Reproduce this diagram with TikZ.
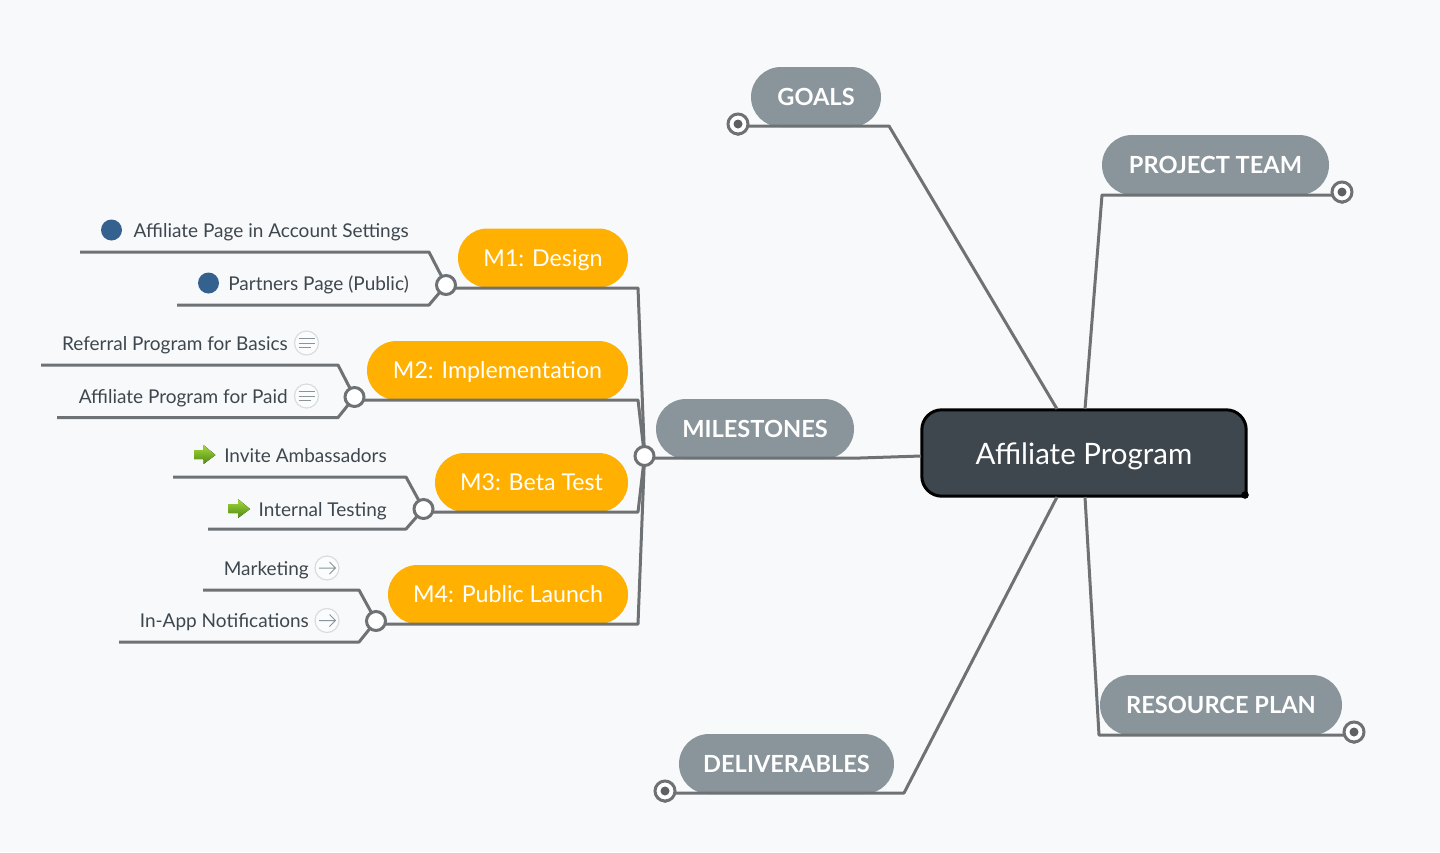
\documentclass[tikz,border=0pt]{standalone}
\usepackage{fontspec}
\setmainfont{Lato}
\usetikzlibrary{shapes.misc}
\definecolor{paper}{HTML}{F8F9FB}
\definecolor{wire}{HTML}{6E7275}
\definecolor{slate}{HTML}{3E474E}
\definecolor{pillgray}{HTML}{89959A}
\definecolor{pillamber}{HTML}{FFB000}
\definecolor{dotblue}{HTML}{35618F}
\definecolor{iconrim}{HTML}{D9DDE0}
\definecolor{iconink}{HTML}{8A9499}
\definecolor{limetop}{HTML}{A6D83C}
\definecolor{limebot}{HTML}{4F8A12}
\pgfdeclarelayer{pills}
\pgfdeclarelayer{wires}
\pgfsetlayers{pills,wires,main}
\tikzset{
  topicpill/.style={shape=rounded rectangle,fill=pillgray,text=white,inner sep=0pt,minimum height=60pt,
    text height=17.5pt,text depth=0pt,font=\fontsize{23.6}{28}\selectfont\bfseries},
  milepill/.style={shape=rounded rectangle,fill=pillamber,text=white,inner sep=0pt,minimum height=59pt,
    text height=16.5pt,text depth=0pt,font=\fontsize{23.2}{28}\selectfont},
  centertext/.style={text=white,inner sep=0pt,minimum width=324pt,minimum height=86pt,
    text height=22pt,text depth=0pt,font=\fontsize{29.5}{34}\selectfont},
  centerbox/.style={draw=black,line width=3pt,fill=slate,line join=round},
  leaftext/.style={anchor=base east,text=slate,inner sep=0pt,font=\fontsize{19}{23}\selectfont},
  wireline/.style={draw=wire,line width=3pt,line join=round},
  joint/.style={circle,draw=wire,fill=white,line width=3pt,minimum size=19pt,inner sep=0pt},
  endmark/.style={circle,draw=wire,fill=white,line width=3pt,minimum size=20pt,inner sep=0pt},
  enddot/.style={circle,fill=wire!85!black,minimum size=9pt,inner sep=0pt},
  bluedot/.style={circle,fill=dotblue,minimum size=21pt,inner sep=0pt},
  iconring/.style={circle,draw=iconrim,fill=paper!50!white,line width=1.2pt,minimum size=24pt,inner sep=0pt},
  iconline/.style={draw=iconink,line width=1pt},
  greenarrow/.style={top color=limetop,bottom color=limebot,draw=none}
}
\begin{document}
\begin{tikzpicture}[x=1pt,y=-1pt]
\useasboundingbox (0,0) rectangle (1440,852);
% Central topic
\node[centertext] (center) at (1084,453) {Affiliate Program};
\begin{pgfonlayer}{pills}
\fill[paper] (0,0) rectangle (1440,852);
\draw[centerbox] (center.south east) {[rounded corners=20pt] -- (center.north east) -- (center.north west) -- (center.south west) -- (center.south)} -- cycle;
% Main topics
\node[topicpill,minimum width=130pt] (goals) at (816,97) {GOALS};
\node[topicpill,minimum width=227pt] (team) at (1215.5,165) {PROJECT TEAM};
\node[topicpill,minimum width=198pt] (milestones) at (755,429) {MILESTONES};
\node[topicpill,minimum width=242pt] (resource) at (1221,705) {RESOURCE PLAN};
\node[topicpill,minimum width=215pt] (deliverables) at (786.5,764) {DELIVERABLES};
% Milestone topics
\node[milepill,minimum width=170pt] (mone) at (543,258) {M1: Design};
\node[milepill,minimum width=261pt] (mtwo) at (497.5,370.5) {M2: Implementation};
\node[milepill,minimum width=193pt] (mthree) at (531.5,482.5) {M3: Beta Test};
\node[milepill,minimum width=240pt] (mfour) at (508,594.5) {M4: Public Launch};
\end{pgfonlayer}
% Joints and end marks
\node[joint] (jointms) at (644.5,456) {};
\node[joint] (jointone) at (446,285) {};
\node[joint] (jointtwo) at (354.5,397) {};
\node[joint] (jointthree) at (423.5,509) {};
\node[joint] (jointfour) at (376,621) {};
\node[endmark] (endgoals) at (738,124) {};
\node[endmark] (endteam) at (1342,192) {};
\node[endmark] (endresource) at (1354,732) {};
\node[endmark] (enddeliv) at (665,791) {};
\node[enddot] at (endgoals) {};
\node[enddot] at (endteam) {};
\node[enddot] at (endresource) {};
\node[enddot] at (enddeliv) {};
\fill[black] (1245,495) circle (3.8pt);
% Free ends of the wires
\coordinate (cgoals) at (1057,409);
\coordinate (cteam) at (1085,409);
\coordinate (cms) at (921,456);
\coordinate (cdeliv) at (1057,497);
\coordinate (cresource) at (1085,497);
\coordinate (leafonea) at (80,252);
\coordinate (leafoneb) at (177,305);
\coordinate (leaftwoa) at (41,365);
\coordinate (leaftwob) at (57,417.5);
\coordinate (leafthreea) at (173,477);
\coordinate (leafthreeb) at (208,529);
\coordinate (leaffoura) at (203,590);
\coordinate (leaffourb) at (119,642);
\begin{pgfonlayer}{wires}
% Wires from the central topic
\draw[wireline] (cgoals) -- (889,126) -- (738,126) -- (endgoals);
\draw[wireline] (cteam) -- (1102,195) -- (1342,195) -- (endteam);
\draw[wireline] (cresource) -- (1099,735) -- (1354,735) -- (endresource);
\draw[wireline] (cdeliv) -- (904,793) -- (665,793) -- (enddeliv);
\draw[wireline] (cms) -- (860,458) -- (644.5,458) -- (jointms);
% Wires to the milestones
\draw[wireline] (jointms.center) -- (638,288) -- (446,288) -- (jointone.center);
\draw[wireline] (jointms.center) -- (638,400) -- (354.5,400) -- (jointtwo.center);
\draw[wireline] (jointms.center) -- (638,512) -- (423.5,512) -- (jointthree.center);
\draw[wireline] (jointms.center) -- (638,624) -- (376,624) -- (jointfour.center);
% Wires to the leaves
\draw[wireline] (jointone.center) -- (429,252) -- (leafonea);
\draw[wireline] (jointone.center) -- (429,305) -- (leafoneb);
\draw[wireline] (jointtwo.center) -- (338,365) -- (leaftwoa);
\draw[wireline] (jointtwo.center) -- (338,417.5) -- (leaftwob);
\draw[wireline] (jointthree.center) -- (406,477) -- (leafthreea);
\draw[wireline] (jointthree.center) -- (406,529) -- (leafthreeb);
\draw[wireline] (jointfour.center) -- (359,590) -- (leaffoura);
\draw[wireline] (jointfour.center) -- (359,642) -- (leaffourb);
\end{pgfonlayer}
% Leaves under M1
\node[leaftext] (pageacct) at (409,237) {Affiliate Page in Account Settings};
\node[leaftext] (pagepart) at (409,290) {Partners Page (Public)};
\node[bluedot] (dotacct) at (111.5,230) {};
\node[bluedot] (dotpart) at (208.5,283) {};
% Leaves under M2
\node[leaftext] (refbasics) at (288,350) {Referral Program for Basics};
\node[leaftext] (affpaid) at (288,403) {Affiliate Program for Paid};
\node[iconring] (notebasics) at (306.5,343) {};
\draw[iconline] (298.5,338.5) -- (314.5,338.5) (298.5,343) -- (314.5,343) (298.5,347.5) -- (310.5,347.5);
\node[iconring] (notepaid) at (306.5,396) {};
\draw[iconline] (298.5,391.5) -- (314.5,391.5) (298.5,396) -- (314.5,396) (298.5,400.5) -- (310.5,400.5);
% Leaves under M3
\node[leaftext] (invite) at (387,462) {Invite Ambassadors};
\node[leaftext] (internal) at (387,516) {Internal Testing};
\fill[greenarrow] (194,450) -- (203.5,450) -- (203.5,445) -- (215.5,455) -- (203.5,464) -- (203.5,459) -- (194,459) -- cycle;
\fill[greenarrow] (228.5,504) -- (238,504) -- (238,499) -- (250,509) -- (238,518) -- (238,513) -- (228.5,513) -- cycle;
% Leaves under M4
\node[leaftext] (marketing) at (309,575) {Marketing};
\node[leaftext] (inapp) at (309,627.5) {In-App Notifications};
\node[iconring] (arrowmark) at (327,568) {};
\draw[iconline] (319,568) -- (335,568) (329.5,562) -- (335.5,568) -- (329.5,574);
\node[iconring] (arrowapp) at (327,620.5) {};
\draw[iconline] (319,620.5) -- (335,620.5) (329.5,614.5) -- (335.5,620.5) -- (329.5,626.5);
\end{tikzpicture}
\end{document}
